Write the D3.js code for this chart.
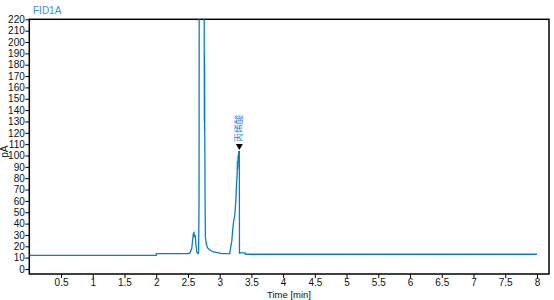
<!DOCTYPE html>
<html>
<head>
<meta charset="utf-8">
<script src="https://cdn.jsdelivr.net/npm/d3@7"></script>
<style>
  body { margin: 0; background: #fff; }
  svg { display: block; font-family: "Liberation Sans", Arial, sans-serif; }
</style>
</head>
<body>
<svg id="chart" width="554" height="300"></svg>
<script>
// Signal trace (retention time in min, response in pA)
const timeMin = [
  0, 2.0, 2.001, 2.50, 2.53, 2.56, 2.575, 2.585, 2.595, 2.605, 2.615, 2.625,
  2.64, 2.655, 2.668, 2.675, 2.68, 2.755, 2.757, 2.7585, 2.760, 2.7615,
  2.763, 2.7645, 2.766, 2.770, 2.775, 2.79, 2.81, 2.84, 2.90, 3.0, 3.03,
  3.16, 3.175, 3.19, 3.205, 3.22, 3.24, 3.255, 3.265, 3.275, 3.28, 3.285,
  3.29, 3.295, 3.30, 3.305, 3.31, 3.312, 3.33, 3.40, 3.405, 8.0
];
const signalPA = [
  12, 12, 13.5, 13.5, 14, 18, 26, 31, 32, 28, 30, 22,
  15, 13.5, 14, 60, 400, 400, 200, 130, 190, 122,
  180, 116, 115, 60, 28, 22, 18.5, 17, 15, 14, 13.5,
  13.5, 20, 24, 34, 42, 48, 60, 75, 82, 95, 88,
  100, 94, 104, 98, 104, 14, 14.3, 14.3, 13, 13
];

// Identified peaks
const peakNames = ['丙烯酸'];
const peakTimes = [3.31];
const peakHeights = [104];

// Axis ticks
const xTicks = d3.range(0.5, 8.01, 0.5);
const yTicks = d3.range(0, 221, 10);

const svg = d3.select('#chart');
const plotLeft = 29.3, plotRight = 549, plotTop = 19.3, plotBottom = 274;

const x = d3.scaleLinear().domain([0, 8.19]).range([plotLeft, plotRight]);
const y = d3.scaleLinear().domain([-4.4, 220]).range([plotBottom, plotTop]);

svg.append('defs').append('clipPath')
    .attr('id', 'plot-clip')
  .append('rect')
    .attr('x', plotLeft)
    .attr('y', plotTop)
    .attr('width', plotRight - plotLeft)
    .attr('height', plotBottom - plotTop);

// Axes
const xAxis = svg.append('g')
  .attr('transform', `translate(0,${plotBottom})`)
  .call(d3.axisBottom(x).tickValues(xTicks).tickSize(4).tickSizeOuter(0)
    .tickFormat(d => String(d)));

const yAxis = svg.append('g')
  .attr('transform', `translate(${plotLeft},0)`)
  .call(d3.axisLeft(y).tickValues(yTicks).tickSize(4).tickSizeOuter(0)
    .tickFormat(d => String(d)));

[xAxis, yAxis].forEach((g) => {
  g.select('.domain').remove();
  g.selectAll('line').attr('stroke', '#000');
  g.selectAll('text')
    .attr('fill', '#111')
    .style('font-size', '10px');
});
xAxis.selectAll('text').attr('y', 4.5);
yAxis.selectAll('text').attr('x', -4.5);

// Frame
svg.append('rect')
  .attr('x', plotLeft)
  .attr('y', plotTop)
  .attr('width', plotRight - plotLeft)
  .attr('height', plotBottom - plotTop)
  .attr('fill', 'none')
  .attr('stroke', '#000')
  .attr('stroke-width', 1.5);

// Trace
const points = timeMin.map((t, i) => [t, signalPA[i]]);
svg.append('path')
  .datum(points)
  .attr('clip-path', 'url(#plot-clip)')
  .attr('fill', 'none')
  .attr('stroke', '#0a7ccc')
  .attr('stroke-width', 1.3)
  .attr('d', d3.line().x(d => x(d[0])).y(d => y(d[1])));

// Peak markers and labels
const peaks = svg.selectAll('.peak')
  .data(peakNames.map((n, i) => ({ name: n, t: peakTimes[i], v: peakHeights[i] })))
  .join('g')
    .attr('class', 'peak')
    .attr('transform', d => `translate(${x(d.t)},${y(d.v) - 1})`);

peaks.append('path')
  .attr('d', 'M-3.5,-6L3.5,-6L0,0Z')
  .attr('fill', '#000');

peaks.append('text')
  .attr('transform', 'translate(3,-8) rotate(-90)')
  .attr('fill', '#3a86d6')
  .style('font-family', '"Noto Sans CJK SC", sans-serif')
  .style('font-size', '9px')
  .text(d => d.name);

// Titles
svg.append('text')
  .attr('x', 33)
  .attr('y', 14)
  .attr('fill', '#3a8ee0')
  .style('font-size', '10px')
  .text('FID1A');

svg.append('text')
  .attr('transform', `translate(8,${(plotTop + plotBottom) / 2 + 5}) rotate(-90)`)
  .attr('text-anchor', 'middle')
  .attr('fill', '#111')
  .style('font-size', '10px')
  .text('pA');

svg.append('text')
  .attr('x', 289)
  .attr('y', 297.5)
  .attr('text-anchor', 'middle')
  .attr('fill', '#111')
  .style('font-size', '9.5px')
  .text('Time [min]');
</script>
</body>
</html>
